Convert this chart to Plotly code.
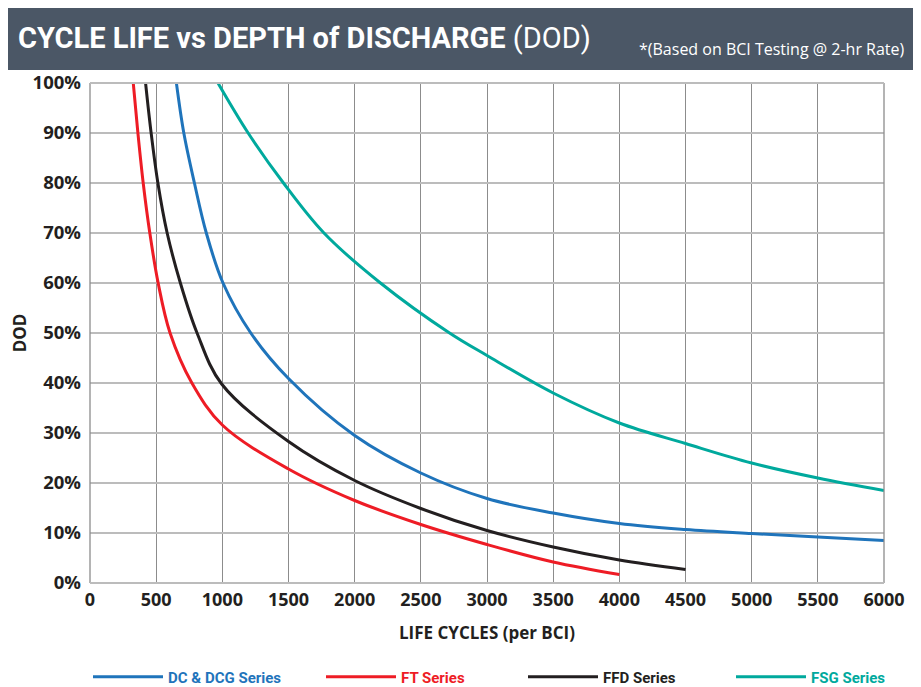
import plotly.graph_objects as go

# ---------------- data ----------------
series_names = ["DC & DCG Series", "FT Series", "FFD Series", "FSG Series"]
series_colors = ["#1f74bb", "#ee1c25", "#231f20", "#00a99d"]

dc_cycles = [653, 709, 789, 879, 1005, 1215, 1500, 2000, 2500, 3000, 3500, 4000, 4500, 5000, 5500, 6000]
dc_dod =    [100, 90, 80, 70, 60, 50, 40.9, 29.5, 22.0, 16.9, 14.0, 11.9, 10.7, 9.9, 9.2, 8.5]

ft_cycles = [327, 362, 402, 452, 515, 605, 770, 1000, 1500, 2000, 2500, 3000, 3500, 4000]
ft_dod =    [100, 90, 80, 70, 60, 50, 40, 31.6, 22.8, 16.5, 11.7, 7.7, 4.2, 1.7]

ffd_cycles = [420, 462, 513, 583, 683, 809, 995, 1500, 2000, 2500, 3000, 3500, 4000, 4500]
ffd_dod =    [100, 90, 80, 70, 60, 50, 39.8, 28.3, 20.5, 14.9, 10.5, 7.2, 4.6, 2.7]

fsg_cycles = [967, 1195, 1462, 1768, 2195, 2717, 3000, 3500, 4000, 4500, 5000, 5500, 6000]
fsg_dod =    [100, 90, 80, 70, 60, 50, 45.5, 38, 32, 27.9, 24, 21, 18.5]

x_ticks = [0, 500, 1000, 1500, 2000, 2500, 3000, 3500, 4000, 4500, 5000, 5500, 6000]
y_ticks = [0, 10, 20, 30, 40, 50, 60, 70, 80, 90, 100]
y_tick_labels = [f"{v}%" for v in y_ticks]

title_main = "CYCLE LIFE vs DEPTH of DISCHARGE"
title_tail = "(DOD)"
subtitle = "*(Based on BCI Testing @ 2-hr Rate)"
x_title = "LIFE CYCLES (per BCI)"
y_title = "DOD"

# ---------------- figure ----------------
OFF = 8  # page body margin
W, H = 921 - OFF, 687 - OFF
PL, PR, PT, PB = 90, 884, 83, 583   # plot area in page pixels
L, T = PL - OFF, PT - OFF
R, B = W - (PR - OFF), H - (PB - OFF)
pw, ph = PR - PL, PB - PT

def px_x(p):
    return (p - PL) / pw

def px_y(p):
    return (PB - p) / ph

TITLEF = "Roboto, Liberation Sans, sans-serif"
BOLDF = "Open Sans, Liberation Sans, sans-serif"

legend_ids = ["legend", "legend2", "legend3", "legend4"]
legend_left_px = [88, 321, 523, 731]

fig = go.Figure()
all_data = [(dc_cycles, dc_dod), (ft_cycles, ft_dod), (ffd_cycles, ffd_dod), (fsg_cycles, fsg_dod)]
for (xs, ys), name, col, lid in zip(all_data, series_names, series_colors, legend_ids):
    fig.add_trace(go.Scatter(
        x=xs, y=ys, mode="lines", line=dict(color=col, width=3, shape="spline", smoothing=1.0),
        name=f"<span style='color:{col}'><b>{name}</b></span>", hoverinfo="skip", legend=lid,
    ))

vgrid = "#8c8c8c"
hgrid = "#bcbcbc"

fig.update_xaxes(
    range=[0, 6000], tickvals=x_ticks, ticktext=[str(v) for v in x_ticks],
    showgrid=True, gridcolor=vgrid, gridwidth=1.3,
    showline=False, zeroline=False, ticks="", ticklabelstandoff=4,
    tickfont=dict(family=BOLDF, size=18, color="#231f20", weight="bold"),
    title=dict(text=f"<b>{x_title}</b>", font=dict(family=BOLDF, size=17, color="#231f20"), standoff=17),
)
fig.update_yaxes(
    range=[0, 100], tickvals=y_ticks, ticktext=y_tick_labels,
    showgrid=True, gridcolor=hgrid, gridwidth=2,
    showline=False, zeroline=False, ticks="", ticklabelstandoff=8,
    tickfont=dict(family=BOLDF, size=18.5, color="#231f20", weight="bold"),
    title=dict(text=f"<b>{y_title}</b>", font=dict(family=BOLDF, size=17, color="#231f20"), standoff=2),
)

shapes = [
    # banner
    dict(type="rect", xref="paper", yref="paper", x0=px_x(4), x1=px_x(917), y0=px_y(70), y1=px_y(6),
         fillcolor="#4b5766", line=dict(width=0), layer="below"),
    # frame
    dict(type="line", xref="paper", yref="paper", x0=0, x1=0, y0=0, y1=1, line=dict(color=vgrid, width=1.3)),
    dict(type="line", xref="paper", yref="paper", x0=1, x1=1, y0=0, y1=1, line=dict(color=vgrid, width=1.3)),
    dict(type="line", xref="paper", yref="paper", x0=0, x1=1, y0=1, y1=1, line=dict(color=hgrid, width=2)),
    dict(type="line", xref="paper", yref="paper", x0=0, x1=1, y0=0, y1=0, line=dict(color=hgrid, width=2)),
]

annotations = [
    dict(xref="paper", yref="paper", x=px_x(16), y=px_y(38), xanchor="left", yanchor="middle",
         text=f"<b>{title_main}</b> {title_tail}", showarrow=False,
         font=dict(family=TITLEF, size=29, color="white")),
    dict(xref="paper", yref="paper", x=px_x(907), y=px_y(49), xanchor="right", yanchor="middle",
         text=subtitle, showarrow=False,
         font=dict(family="Open Sans, sans-serif", size=16, color="white")),
]

layout_legends = {}
for lid, lpx in zip(legend_ids, legend_left_px):
    layout_legends[lid] = dict(
        orientation="h", x=px_x(lpx), y=px_y(677), xanchor="left", yanchor="middle",
        itemwidth=70, font=dict(family=TITLEF, size=15, color="#231f20"),
        bgcolor="rgba(0,0,0,0)", itemclick=False, itemdoubleclick=False,
    )

fig.update_layout(
    width=W, height=H, margin=dict(l=L, r=R, t=T, b=B, autoexpand=False),
    paper_bgcolor="white", plot_bgcolor="white",
    shapes=shapes, annotations=annotations,
    showlegend=True,
    **layout_legends,
)

fig.write_html("out.html")
